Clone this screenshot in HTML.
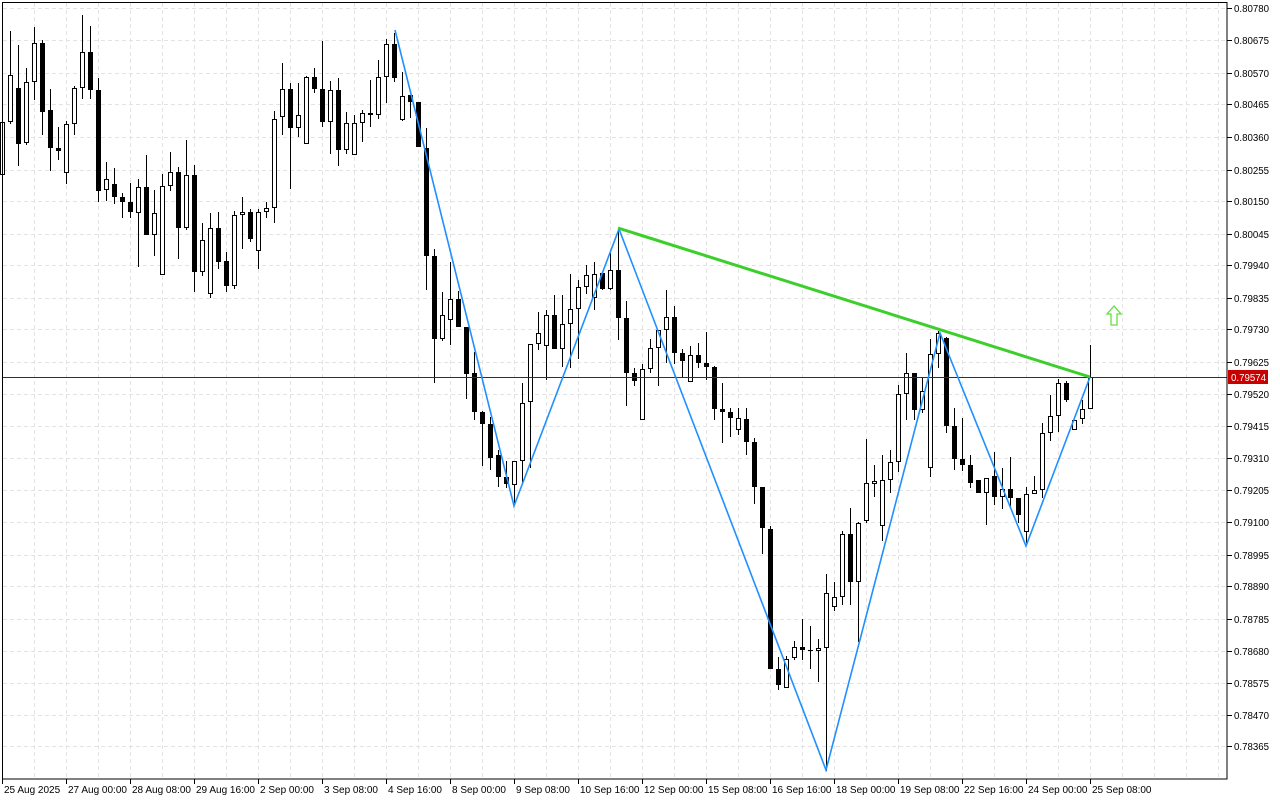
<!DOCTYPE html>
<html><head><meta charset="utf-8"><style>
html,body{margin:0;padding:0;background:#fff;width:1280px;height:800px;overflow:hidden}
svg text{font-family:"Liberation Sans",sans-serif;font-size:10px;fill:#000}
</style></head><body>
<svg id="s" width="1280" height="800" xmlns="http://www.w3.org/2000/svg">
<rect x="0" y="0" width="1280" height="800" fill="#fff"/>
<g id="grid" stroke="#e3e3e3" stroke-width="1" stroke-dasharray="4,3"></g>
<g id="c"></g>
<line x1="2" y1="377.5" x2="1227" y2="377.5" stroke="#a00000" stroke-width="1"/>
<polyline points="395,30 514,506 619,229 826,770 940,333 1026,546 1090,377" fill="none" stroke="#1e90ff" stroke-width="1.6"/>
<line x1="618" y1="228" x2="1090" y2="377" stroke="#3ccf2c" stroke-width="3"/>
<path d="M1114,306 L1107,314 L1111,314 L1111,325 L1117,325 L1117,314 L1121,314 Z" fill="#fff" stroke="#66dd44" stroke-width="1.3"/>
<rect x="2.5" y="2.5" width="1224.5" height="776.5" fill="none" stroke="#000" stroke-width="1"/>
<g id="ax"></g>
<rect x="1228" y="370" width="40" height="14" fill="#c80000"/>
<text x="1231" y="381" textLength="35" lengthAdjust="spacingAndGlyphs" style="fill:#fff">0.79574</text>
</svg>
<script>
var NS="http://www.w3.org/2000/svg";
function el(t,a,p){var e=document.createElementNS(NS,t);for(var k in a)e.setAttribute(k,a[k]);p.appendChild(e);return e;}
var grid=document.getElementById('grid'),c=document.getElementById('c'),ax=document.getElementById('ax');
var py=[8,40,73,104,137,170,201,234,265,298,329,362,394,426,458,490,522,555,586,619,651,683,715,746];
var pl=["0.80780","0.80675","0.80570","0.80465","0.80360","0.80255","0.80150","0.80045","0.79940","0.79835","0.79730","0.79625","0.79520","0.79415","0.79310","0.79205","0.79100","0.78995","0.78890","0.78785","0.78680","0.78575","0.78470","0.78365"];
for(var i=0;i<py.length;i++){var y=py[i]+0.5;
 el('line',{x1:3,y1:y,x2:1227,y2:y},grid);
 el('line',{x1:1227,y1:y,x2:1232,y2:y,stroke:'#000'},ax);
 var t=el('text',{x:1234,y:py[i]+4,textLength:35,lengthAdjust:'spacingAndGlyphs'},ax);t.textContent=pl[i];
}
for(var x=34;x<1227;x+=32){el('line',{x1:x+0.5,y1:3,x2:x+0.5,y2:779},grid);}
var tl=["25 Aug 2025","27 Aug 00:00","28 Aug 08:00","29 Aug 16:00","2 Sep 00:00","3 Sep 08:00","4 Sep 16:00","8 Sep 00:00","9 Sep 08:00","10 Sep 16:00","12 Sep 00:00","15 Sep 08:00","16 Sep 16:00","18 Sep 00:00","19 Sep 08:00","22 Sep 16:00","24 Sep 00:00","25 Sep 08:00"];
for(var i=0;i<tl.length;i++){var x=2+64*i;
 el('line',{x1:x+0.5,y1:779,x2:x+0.5,y2:784,stroke:'#000'},ax);
 var t=el('text',{x:x+2,y:793},ax);t.textContent=tl[i];}
var d=[
[122,175,115,178,1],[75,122,31,124,1],[88,144,45,166,0],[82,143,68,145,1],[43,82,27,100,1],[43,112,40,135,0],[110,148,89,171,0],[148,151,127,160,0],[124,173,121,184,1],[88,124,86,135,1],
[52,88,15,99,1],[52,90,26,99,0],[90,191,78,202,0],[179,190,162,201,1],[184,197,168,204,0],[197,202,193,218,0],[202,212,183,218,0],[187,213,179,267,1],[187,235,155,235,0],[213,235,190,256,1],
[186,275,174,275,1],[172,186,152,191,1],[172,228,167,259,0],[175,228,140,230,1],[175,272,165,292,0],[240,272,223,276,1],[228,294,213,298,1],[228,262,212,269,0],[261,286,252,292,0],[215,286,211,289,1],
[212,215,197,249,1],[212,239,209,242,0],[212,251,209,269,1],[208,212,202,218,1],[119,208,111,223,1],[89,117,63,135,1],[89,128,83,189,0],[115,128,83,137,1],[77,144,76,144,1],[77,89,68,93,0],
[89,122,41,127,0],[90,122,81,154,1],[90,150,78,166,0],[123,150,112,154,1],[123,155,115,155,1],[113,123,110,142,1],[113,115,80,127,0],[77,115,60,119,1],[44,77,39,103,1],[44,78,33,82,0],
[96,120,72,121,1],[95,102,95,118,0],[102,147,102,147,0],[148,256,128,290,0],[256,339,249,383,0],[315,339,292,341,1],[299,320,262,345,1],[299,327,291,327,0],[327,374,327,399,0],[373,412,352,420,0],
[412,424,411,466,0],[424,458,417,470,0],[455,477,450,487,0],[477,484,461,488,0],[461,485,461,503,1],[403,461,383,483,1],[344,402,344,468,1],[333,344,312,350,1],[315,346,310,380,1],[315,349,295,349,0],
[324,349,295,367,1],[309,324,274,368,1],[287,309,280,359,1],[275,287,265,294,1],[274,298,262,310,1],[273,289,273,290,0],[270,289,253,290,1],[270,318,228,340,0],[318,373,301,406,0],[373,381,368,386,0],
[369,420,364,420,1],[348,369,339,373,1],[330,348,330,386,1],[317,330,290,363,1],[317,353,306,364,0],[353,361,349,377,0],[355,382,346,382,1],[355,363,343,368,0],[363,367,332,380,0],[367,409,366,420,0],
[409,412,383,443,0],[412,418,408,437,0],[418,430,408,435,1],[419,442,408,455,0],[442,487,438,504,0],[487,528,487,554,0],[529,669,526,669,0],[669,685,657,690,0],[659,688,656,688,1],[647,658,641,660,1],
[647,650,619,660,0],[650,651,626,669,0],[648,651,639,682,1],[593,648,574,771,1],[597,607,582,611,1],[534,597,531,605,1],[534,582,508,605,0],[523,582,522,642,1],[483,521,439,523,1],[481,484,465,497,1],
[480,526,455,541,1],[462,480,450,493,1],[394,462,385,472,1],[373,394,353,420,1],[373,410,373,420,0],[391,410,377,413,1],[354,468,339,477,1],[333,354,331,368,1],[338,426,337,433,0],[426,459,408,470,0],
[459,465,418,471,0],[465,483,455,488,0],[480,493,480,493,0],[478,493,478,525,1],[476,497,452,505,0],[489,497,468,509,1],[489,498,457,507,0],[498,515,498,523,0],[494,532,487,543,1],[490,494,476,494,1],
[433,490,423,498,1],[416,433,395,441,1],[383,416,379,432,1],[383,400,381,402,0],[420,430,420,430,1],[409,419,400,424,1],[377,409,345,409,1],[377,378,377,378,0]
];
for(var i=0;i<d.length;i++){var q=d[i],x=2+8*i+0.5;
 el('line',{x1:x,y1:q[2],x2:x,y2:q[3],stroke:'#000','stroke-width':1},c);
 var h=Math.max(q[1]-q[0],1);
 if(q[4]) el('rect',{x:x-2,y:q[0]+0.5,width:4,height:Math.max(h-1,0.5),fill:'#fff',stroke:'#000','stroke-width':1},c);
 else el('rect',{x:x-2.5,y:q[0],width:5,height:h,fill:'#000'},c);
}
</script>
</body></html>
